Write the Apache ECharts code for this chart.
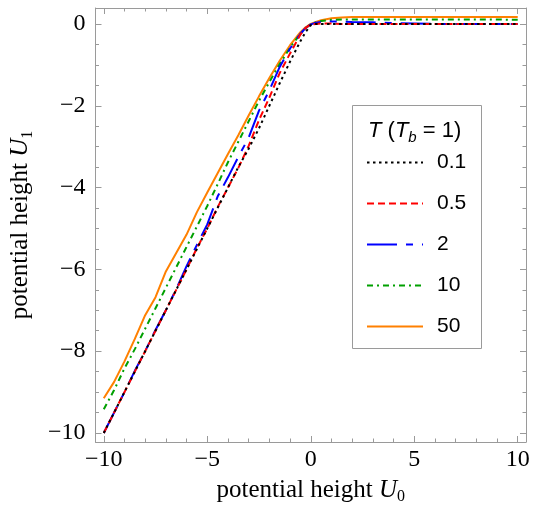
<!DOCTYPE html>
<html><head><meta charset="utf-8">
<script src="https://cdn.jsdelivr.net/npm/echarts@6/dist/echarts.min.js"></script>
<style>html,body{margin:0;padding:0;background:#fff}#c{width:533px;height:510px}</style>
</head><body><div id="c"></div>
<script>
// ---- data ----
const U0 = [-10,-9.5,-9,-8.5,-8,-7.5,-7,-6.5,-6,-5.5,-5,-4.5,-4,-3.5,-3,-2.5,-2,-1.5,-1,-0.5,-0.25,0,0.25,0.5,1,1.5,2,3,4,5,6,7,8,9,10];
const U1_T0_1 = [-10,-9.5,-9,-8.5,-8,-7.5,-7,-6.5,-6,-5.5,-5,-4.5,-4,-3.5,-3.05,-2.55,-2.0,-1.45,-0.92,-0.42,-0.2,-0.03,0,0,0,0,0,0,0,0,0,0,0,0,0];
const U1_T0_5 = [-10,-9.5,-9,-8.5,-8,-7.5,-7,-6.5,-6,-5.48,-5,-4.48,-4,-3.52,-2.98,-2.35,-1.8,-1.2,-0.72,-0.26,-0.1,-0.01,0,0.01,0.01,0,0,0,0,0,0,0,0,0,0];
const U1_T2   = [-10,-9.5,-9,-8.48,-8,-7.48,-7,-6.48,-5.92,-5.4,-4.9,-4.22,-3.75,-3.25,-2.78,-2.12,-1.62,-1.05,-0.6,-0.24,-0.1,-0.01,0.03,0.05,0.06,0.06,0.05,0.04,0.02,0.01,0,0,0,0,0];
const U1_T10  = [-9.42,-8.95,-8.42,-7.95,-7.45,-6.95,-6.45,-5.95,-5.45,-4.95,-4.45,-3.92,-3.38,-2.88,-2.38,-1.88,-1.42,-0.98,-0.58,-0.24,-0.1,-0.01,0.04,0.07,0.1,0.11,0.11,0.11,0.11,0.11,0.11,0.11,0.11,0.11,0.1];
const U1_T50  = [-9.15,-8.75,-8.25,-7.7,-7.12,-6.68,-6.05,-5.6,-5.15,-4.6,-4.12,-3.65,-3.18,-2.72,-2.24,-1.77,-1.32,-0.9,-0.52,-0.2,-0.08,0,0.05,0.09,0.14,0.16,0.17,0.17,0.17,0.17,0.17,0.17,0.17,0.17,0.17];
const seriesNames = ['0.1','0.5','2','10','50'];
const xMajorTicks = [-10,-5,0,5,10];
const xMinorTicks = [-9,-8,-7,-6,-4,-3,-2,-1,1,2,3,4,6,7,8,9];
const yMajorTicks = [-10,-8,-6,-4,-2,0];
const yMinorTicks = [-9.5,-9,-8.5,-7.5,-7,-6.5,-5.5,-5,-4.5,-3.5,-3,-2.5,-1.5,-1,-0.5];

// ---- styling ----
const frame = '#9a9a9a';
const serif = 'Liberation Serif';
const sans = 'Liberation Sans';
const colors = ['#000000','#ff0000','#0000ff','#00a000','#ff8000'];
const dashes = [[2.5,3.5],[7,4],[30,9,7,9],[6,4,2,4],'solid'];
const values = [U1_T0_1, U1_T0_5, U1_T2, U1_T10, U1_T50];

const fmt = v => String(v).replace('-', '\u2212');
const X = [-10.4, 10.4], Y = [-10.22, 0.39];

function xAxisDef(pos, ticks, len, labels, line) {
  return {
    type:'value', position:pos, min:X[0], max:X[1], gridIndex:0,
    axisLine:{show:line, onZero:false, lineStyle:{color:frame, width:1}},
    axisTick:{show:true, inside:true, length:len, customValues:ticks, lineStyle:{color:frame, width:1}},
    axisLabel:{show:labels, customValues:ticks, formatter:fmt, fontFamily:serif, fontSize:24, color:'#000', margin:6},
    splitLine:{show:false}
  };
}
function yAxisDef(pos, ticks, len, labels, line) {
  return {
    type:'value', position:pos, min:Y[0], max:Y[1], gridIndex:0,
    axisLine:{show:line, onZero:false, lineStyle:{color:frame, width:1}},
    axisTick:{show:true, inside:true, length:len, customValues:ticks, lineStyle:{color:frame, width:1}},
    axisLabel:{show:labels, customValues:ticks, formatter:fmt, fontFamily:serif, fontSize:24, color:'#000', margin:10},
    splitLine:{show:false}
  };
}
const xAxes = [
  xAxisDef('bottom', xMajorTicks, 6, true, true),
  xAxisDef('bottom', xMinorTicks, 3.5, false, false),
  xAxisDef('top', xMajorTicks, 6, false, true),
  xAxisDef('top', xMinorTicks, 3.5, false, false)
];
const yAxes = [
  yAxisDef('left', yMajorTicks, 6, true, true),
  yAxisDef('left', yMinorTicks, 3.5, false, false),
  yAxisDef('right', yMajorTicks, 6, false, true),
  yAxisDef('right', yMinorTicks, 3.5, false, false)
];
const nameRich = {
  n:{fontFamily:serif, fontSize:25, color:'#000', lineHeight:30},
  i:{fontFamily:serif, fontSize:25, fontStyle:'italic', color:'#000', lineHeight:30},
  s:{fontFamily:serif, fontSize:16, color:'#000', lineHeight:16, verticalAlign:'bottom'}
};
Object.assign(xAxes[0], {name:'{n|potential height }{i|U}{s|0}', nameLocation:'middle', nameGap:33, nameTextStyle:{rich:nameRich}});
Object.assign(yAxes[0], {name:'{n|potential height }{i|U}{s|1}', nameLocation:'middle', nameGap:60, nameTextStyle:{rich:nameRich}});

const series = seriesNames.map((nm, k) => ({
  name: nm, type:'line', xAxisIndex:0, yAxisIndex:0,
  data: U0.map((x, i) => [x, values[k][i]]),
  symbol:'none', showSymbol:false, smooth:false, z: 10 - k,
  lineStyle:{color:colors[k], width:2, type:dashes[k]},
  itemStyle:{color:colors[k]}
}));

const chart = echarts.init(document.getElementById('c'), null, {renderer:'canvas'});
chart.setOption({
  animation:false,
  backgroundColor:'#fff',
  grid:{left:87, right:7, top:8, bottom:62, containLabel:false},
  xAxis:xAxes, yAxis:yAxes, series,
  legend:{
    data: seriesNames, orient:'vertical', left:366, top:152, padding:0,
    itemWidth:56, itemHeight:20, itemGap:20,
    itemStyle:{opacity:0},
    textStyle:{fontFamily:sans, fontSize:21, color:'#000', padding:[0,0,0,9], lineHeight:20},
    z: 20
  },
  graphic:[
    {type:'rect', z:1, shape:{x:352.5, y:105.5, width:129, height:243}, style:{fill:'#fff', stroke:frame, lineWidth:1}},
    {type:'text', z:30, x:368, y:117, style:{
      text:'{i|T} ({i|T}{s|b} = 1)', fill:'#000', font:'22px "Liberation Sans"',
      rich:{ i:{fontFamily:sans, fontSize:22, fontStyle:'italic', lineHeight:28},
             s:{fontFamily:sans, fontSize:15, fontStyle:'italic', lineHeight:15, verticalAlign:'bottom'} }
    }}
  ]
});
</script></body></html>
